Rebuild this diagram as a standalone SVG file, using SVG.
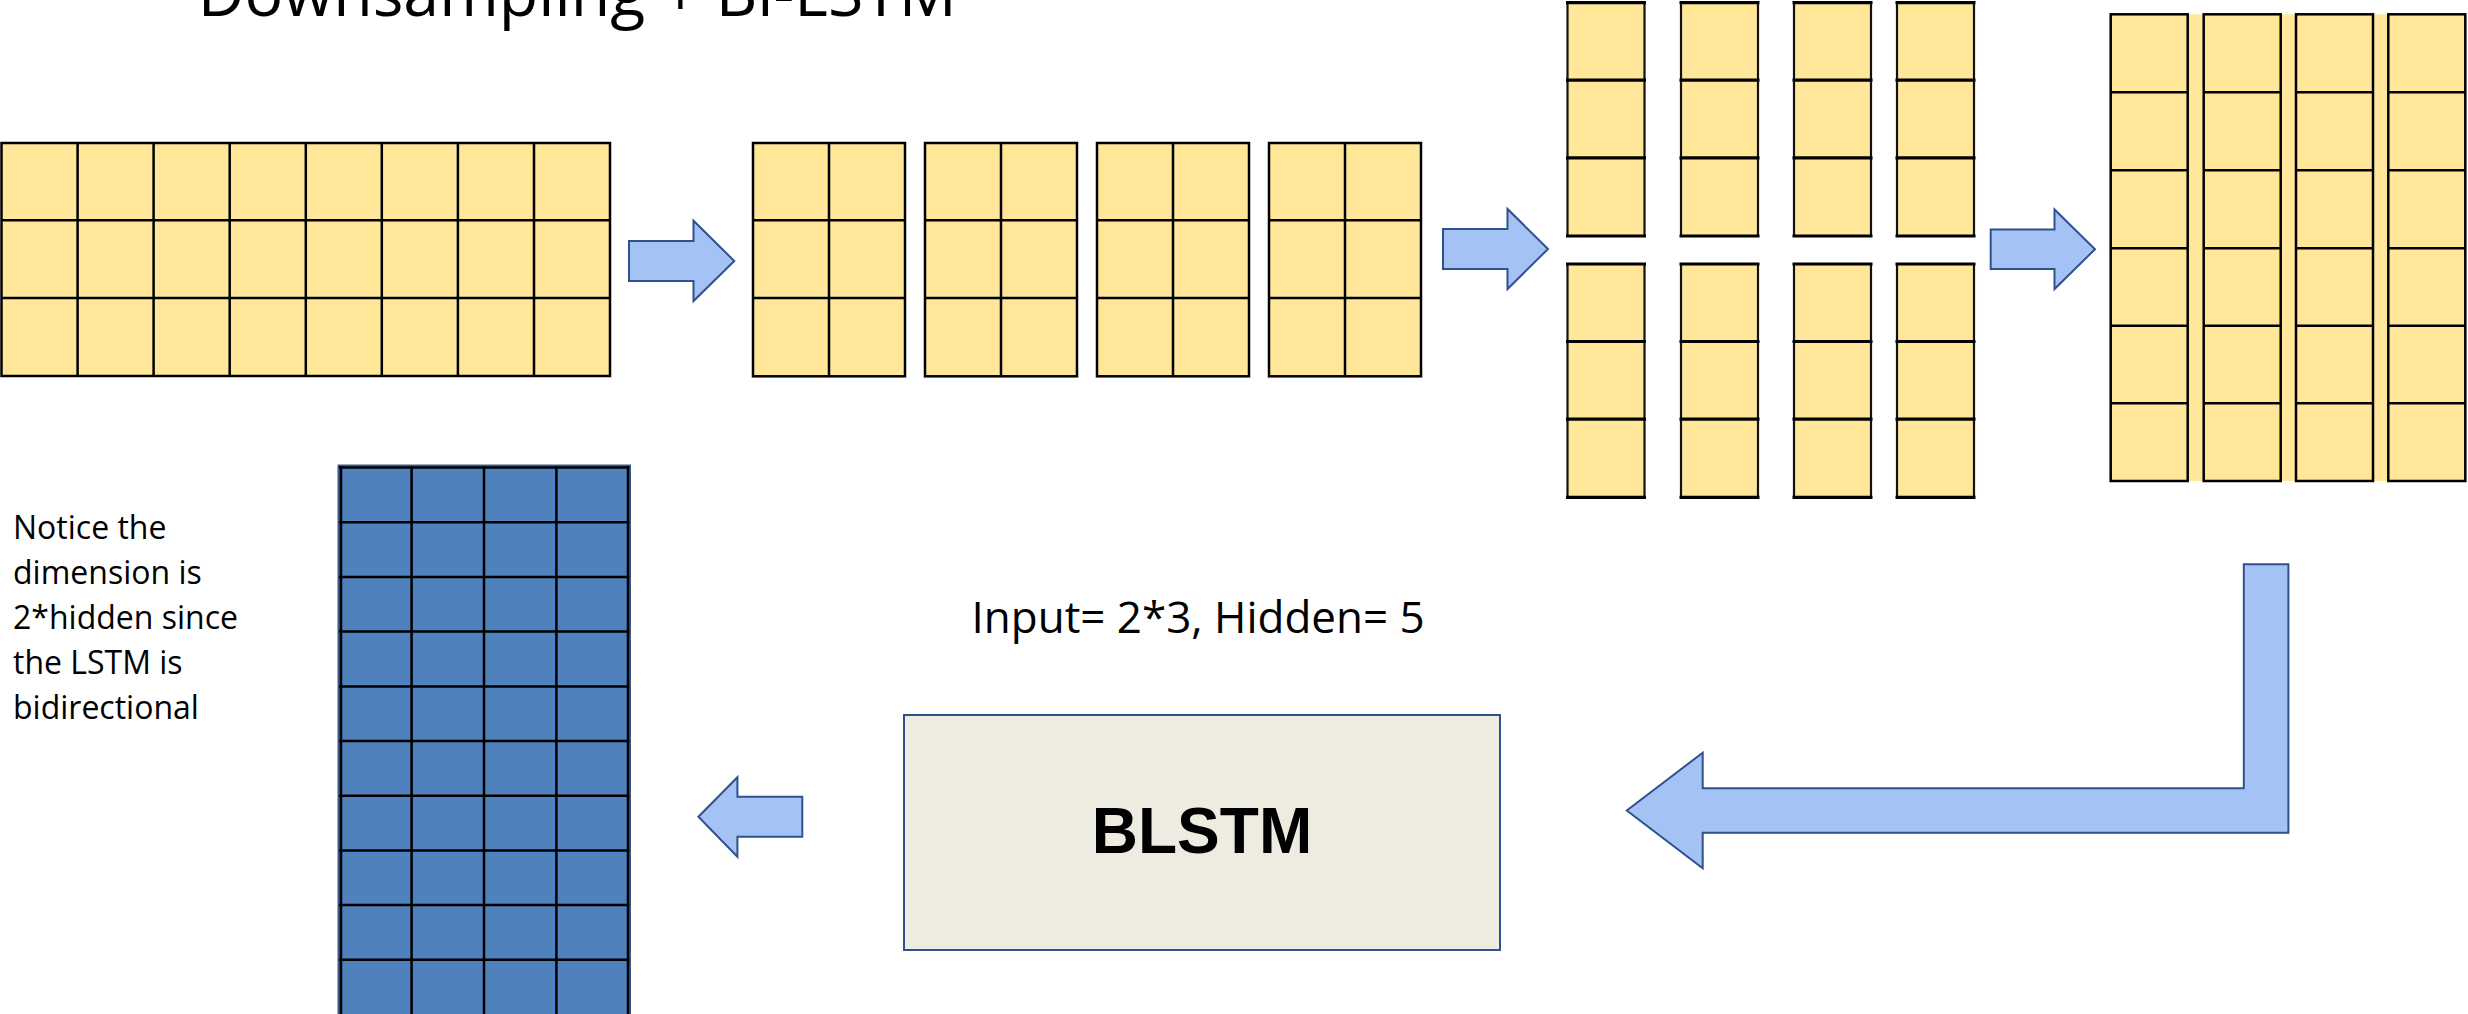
<svg xmlns="http://www.w3.org/2000/svg" xmlns:xlink="http://www.w3.org/1999/xlink" width="2468" height="1014" viewBox="0 0 2468 1014">
  <style>
    .cell { fill: #FFE699; stroke: #000; stroke-width: 2.5; }
    .grid { fill: none; stroke: #000; stroke-width: 2.5; }
    .hline { fill: none; stroke: #000; stroke-width: 3.2; }
    .vline { fill: none; stroke: #111; stroke-width: 2.2; }
    .arrow { fill: #A4C2F4; stroke: #2F528F; stroke-width: 2; stroke-linejoin: miter; }
    .label { font-family: "Open Sans", "Liberation Sans", sans-serif; fill: #000; }
    .bold { font-family: "Liberation Sans", Arial, sans-serif; font-weight: bold; fill: #000; }
  </style>
  <defs>
    <!-- 2 x 3 block of cells -->
    <g id="blk2x3">
      <rect class="cell" x="0" y="0" width="152" height="233.3"/>
      <path class="grid" d="M76 0V233.3M0 77.3H152M0 155H152"/>
    </g>
    <!-- single column of 3 cells -->
    <g id="col3">
      <rect x="0" y="0" width="77" height="233.3" fill="#FFE699"/>
      <path class="vline" d="M0 0V233.3M77 0V233.3"/>
      <path class="hline" d="M-1.5 0H78.5M-1.5 77.5H78.5M-1.5 155.2H78.5M-1.5 233.3H78.5"/>
    </g>
    <!-- single column of 6 cells -->
    <g id="col6">
      <rect class="cell" x="0" y="0" width="77" height="466.7"/>
      <path class="grid" d="M0 78H77M0 156H77M0 234H77M0 311.4H77M0 389H77"/>
    </g>
  </defs>

  <!-- heading -->
  <g id="title">
    <text class="label" x="197.7" y="16" font-size="64" textLength="759" lengthAdjust="spacingAndGlyphs">Downsampling + Bi-LSTM</text>
  </g>

  <!-- input sequence: 8 x 3 -->
  <g id="input-grid">
    <rect class="cell" x="1.5" y="143" width="608.5" height="233"/>
    <path class="grid" d="M77.6 143V376M153.6 143V376M229.7 143V376M305.8 143V376M381.8 143V376M457.9 143V376M534 143V376M1.5 220.3H610M1.5 298H610"/>
  </g>

  <!-- split into four 2 x 3 blocks -->
  <g id="split-blocks">
    <use xlink:href="#blk2x3" x="753" y="143"/>
    <use xlink:href="#blk2x3" x="925" y="143"/>
    <use xlink:href="#blk2x3" x="1097" y="143"/>
    <use xlink:href="#blk2x3" x="1269" y="143"/>
  </g>

  <!-- blocks reshaped into column pairs -->
  <g id="column-pairs">
    <use xlink:href="#col3" x="1567.5" y="2.7"/>
    <use xlink:href="#col3" x="1681" y="2.7"/>
    <use xlink:href="#col3" x="1794" y="2.7"/>
    <use xlink:href="#col3" x="1897" y="2.7"/>
    <use xlink:href="#col3" x="1567.5" y="264"/>
    <use xlink:href="#col3" x="1681" y="264"/>
    <use xlink:href="#col3" x="1794" y="264"/>
    <use xlink:href="#col3" x="1897" y="264"/>
  </g>

  <!-- concatenated columns: 4 x 6 -->
  <g id="concat-columns">
    <rect x="2110.7" y="14.3" width="354.3" height="466.7" fill="#FFE699"/>
    <use xlink:href="#col6" x="2110.7" y="14.3"/>
    <use xlink:href="#col6" x="2203.7" y="14.3"/>
    <use xlink:href="#col6" x="2296" y="14.3"/>
    <use xlink:href="#col6" x="2388.3" y="14.3"/>
  </g>

  <!-- LSTM parameters -->
  <g id="params">
    <text class="label" x="971.6" y="633.3" font-size="44" textLength="453" lengthAdjust="spacingAndGlyphs">Input= 2*3, Hidden= 5</text>
  </g>

  <!-- BLSTM layer -->
  <g id="blstm">
    <rect x="904" y="715" width="596" height="235" fill="#EEECE1" stroke="#2F528F" stroke-width="2"/>
    <text class="bold" x="1202" y="853" font-size="64" text-anchor="middle">BLSTM</text>
  </g>

  <!-- output: 4 x 10 -->
  <g id="output-grid">
    <rect x="339" y="466" width="290.5" height="550" fill="#4F81BD" stroke="#385D8A" stroke-width="3"/>
    <path class="grid" d="M341 466V1014M411.6 466V1014M484 466V1014M556.4 466V1014M628 466V1014M339 467.5H629.5M339 522.2H629.5M339 577H629.5M339 631.6H629.5M339 686.5H629.5M339 741H629.5M339 795.8H629.5M339 850.4H629.5M339 904.9H629.5M339 959.7H629.5"/>
  </g>

  <!-- side note -->
  <g id="note">
    <text class="label" font-size="32">
      <tspan x="13" y="539">Notice the</tspan>
      <tspan x="13" y="584">dimension is</tspan>
      <tspan x="13" y="629">2*hidden since</tspan>
      <tspan x="13" y="674">the LSTM is</tspan>
      <tspan x="13" y="719">bidirectional</tspan>
    </text>
  </g>

  <!-- flow arrows -->
  <g id="connectors">
    <polygon class="arrow" points="629,241 693.5,241 693.5,220.7 734.3,261 693.5,301 693.5,281 629,281"/>
    <polygon class="arrow" points="1443,229 1507.5,229 1507.5,209 1548,249 1507.5,289 1507.5,269 1443,269"/>
    <polygon class="arrow" points="1990.7,229.5 2054.5,229.5 2054.5,209.5 2095,249.3 2054.5,289 2054.5,269 1990.7,269"/>
    <polygon class="arrow" points="2288.4,564.3 2243.8,564.3 2243.8,788.3 1702.7,788.3 1702.7,752.7 1626.8,810.5 1702.7,868.3 1702.7,832.7 2288.4,832.7"/>
    <polygon class="arrow" points="802.3,796.7 737.4,796.7 737.4,777.3 698.4,816.7 737.4,856.7 737.4,836.7 802.3,836.7"/>
  </g>
</svg>
